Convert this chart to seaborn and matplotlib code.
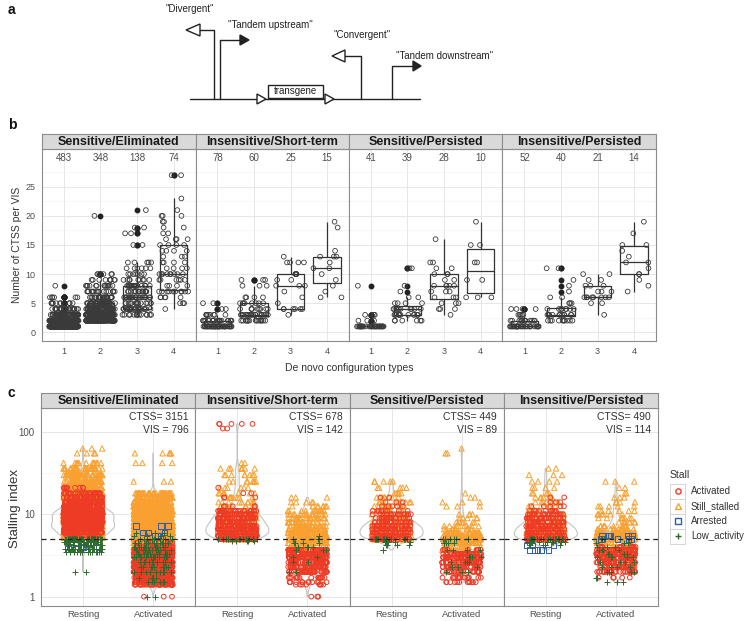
import numpy as np
import pandas as pd
import seaborn as sns
import matplotlib.pyplot as plt
from matplotlib.patches import Rectangle, Polygon
from matplotlib.ticker import FixedLocator

sns.set_style('white')
plt.rcParams['font.family'] = ['Liberation Sans', 'DejaVu Sans']
np.random.seed(7)

FACETS = ['Sensitive/Eliminated', 'Insensitive/Short-term',
          'Sensitive/Persisted', 'Insensitive/Persisted']

# ---- panel b: number of CTSS per VIS, {CTSS count: number of VIS}
CONFIG_TYPES = ['1', '2', '3', '4']
VIS_COUNTS = [[483, 348, 138, 74], [78, 60, 25, 15], [41, 39, 28, 10], [52, 40, 21, 14]]
SE_CTSS = [{1: 250, 2: 130, 3: 60, 4: 25, 5: 11, 6: 6, 8: 1},
           {2: 95, 3: 85, 4: 60, 5: 40, 6: 24, 7: 16, 8: 13, 9: 9, 10: 5, 20: 1},
           {3: 14, 4: 22, 5: 15, 6: 20, 7: 16, 8: 17, 9: 9, 10: 7, 11: 6, 12: 5,
            15: 2, 17: 2, 18: 2, 21: 1},
           {4: 1, 5: 3, 6: 5, 7: 10, 8: 4, 9: 6, 10: 9, 11: 4, 12: 4, 13: 3, 14: 4,
            15: 4, 16: 4, 17: 2, 18: 2, 19: 2, 20: 3, 21: 1, 23: 1, 27: 2}]
IS_CTSS = [{1: 45, 2: 20, 3: 9, 4: 2, 5: 2},
           {2: 15, 3: 18, 4: 9, 5: 8, 6: 4, 8: 3, 9: 3},
           {3: 1, 4: 6, 5: 1, 6: 1, 7: 1, 8: 3, 9: 2, 10: 5, 12: 4, 13: 1},
           {6: 2, 7: 1, 8: 1, 9: 1, 10: 1, 11: 2, 12: 1, 13: 3, 14: 1, 18: 1, 19: 1}]
SP_CTSS = [{1: 33, 2: 3, 3: 4, 8: 1},
           {2: 6, 3: 13, 4: 10, 5: 4, 6: 2, 7: 1, 8: 1, 11: 2},
           {3: 1, 4: 3, 5: 3, 6: 3, 7: 3, 8: 5, 9: 2, 10: 3, 11: 2, 12: 2, 16: 1},
           {6: 3, 9: 2, 12: 2, 15: 2, 19: 1}]
IP_CTSS = [{1: 30, 2: 13, 3: 5, 4: 4},
           {2: 10, 3: 12, 4: 8, 5: 3, 6: 2, 7: 1, 8: 1, 9: 1, 11: 2},
           {3: 1, 5: 2, 6: 8, 7: 3, 8: 3, 9: 2, 10: 2},
           {7: 1, 8: 1, 9: 1, 10: 2, 11: 1, 12: 2, 13: 1, 14: 1, 15: 2, 17: 1, 19: 1}]

# ---- panel c: stalling index, {stalling index: number of CTSS}
CONDITIONS = ['Resting', 'Activated']
STALL_CLASSES = ['Activated', 'Still_stalled', 'Arrested', 'Low_activity']
STALL_COLORS = {'Activated': '#EE3B26', 'Still_stalled': '#F9A030',
                'Arrested': '#2C5DA8', 'Low_activity': '#2D6A2D'}
STALL_MARKERS = {'Activated': 'o', 'Still_stalled': '^', 'Arrested': 's', 'Low_activity': '+'}
DRAW_ORDER = ['Still_stalled', 'Activated', 'Arrested', 'Low_activity']
CTSS_TOTALS = [3151, 678, 449, 490]
VIS_TOTALS = [796, 142, 89, 114]

SE_STALL = {
    'Resting': {
        'Still_stalled': {5.2: 90, 5.5: 130, 6: 140, 6.6: 140, 7.2: 140, 8: 140, 9: 130, 10: 130,
                          11: 120, 12.5: 110, 14: 100, 16: 90, 18: 80, 21: 70, 25: 60, 30: 50,
                          36: 30, 42: 12, 55: 4, 63: 3},
        'Activated': {5.5: 20, 6: 50, 6.6: 90, 7.2: 120, 8: 150, 9: 150, 10: 140, 11: 120,
                      12.5: 100, 14: 70, 16: 50, 18: 30, 21: 10},
        'Arrested': {3.8: 5, 4.0: 3},
        'Low_activity': {5.0: 55, 4.6: 25, 4.2: 20, 3.8: 18, 3.5: 15, 2.0: 2}},
    'Activated': {
        'Still_stalled': {3.7: 60, 4.0: 90, 4.5: 120, 5.0: 140, 5.5: 150, 6: 150, 6.6: 140,
                          7.2: 130, 8: 130, 9: 120, 10: 110, 11: 100, 12.5: 90, 14: 80, 16: 60,
                          18: 40, 25: 3, 42: 4, 55: 5},
        'Activated': {1.0: 3, 1.4: 40, 1.5: 80, 1.7: 80, 2.0: 140, 2.3: 150, 2.6: 160, 3.0: 170,
                      3.3: 160, 3.7: 100, 4.0: 40, 4.5: 17},
        'Arrested': {5.5: 2, 6.0: 3, 7.2: 3},
        'Low_activity': {1.0: 2, 1.5: 6, 1.7: 6, 2.0: 10, 2.3: 10, 2.6: 12, 3.0: 14, 3.3: 14,
                         3.7: 14, 4.0: 12, 4.5: 12, 5.0: 10, 5.5: 4, 6: 3}}}
IS_STALL = {
    'Resting': {
        'Still_stalled': {5.0: 20, 5.5: 30, 6: 30, 6.6: 30, 7.2: 30, 8: 30, 9: 30, 10: 30,
                          11: 20, 12.5: 10, 14: 10, 16: 8, 18: 8, 21: 6, 25: 8, 30: 8, 36: 8, 42: 2},
        'Activated': {5.0: 30, 5.5: 40, 6: 40, 6.6: 40, 7.2: 40, 8: 40, 9: 35, 10: 30, 11: 25,
                      12.5: 5, 16: 3, 18: 2, 21: 1, 110: 2, 125: 5},
        'Low_activity': {5.0: 15, 4.8: 5}},
    'Activated': {
        'Still_stalled': {3.7: 10, 4.0: 20, 4.5: 30, 5.0: 40, 5.5: 40, 6: 35, 6.6: 30, 7.2: 25,
                          8: 25, 9: 20, 10: 15, 11: 12, 12.5: 8, 14: 5, 16: 3},
        'Activated': {1.0: 3, 1.4: 8, 1.5: 12, 1.7: 15, 2.0: 40, 2.3: 50, 2.6: 55, 3.0: 60,
                      3.3: 60, 3.7: 35},
        'Low_activity': {2.0: 2, 2.6: 2, 3.0: 2, 3.7: 3, 4.0: 4, 4.5: 4, 5.0: 2, 5.5: 1}}}
SP_STALL = {
    'Resting': {
        'Still_stalled': {5.0: 20, 5.5: 25, 6: 25, 6.6: 25, 7.2: 25, 8: 20, 9: 15, 10: 10,
                          11: 10, 12.5: 12, 14: 10, 16: 8, 18: 5, 21: 5, 25: 5},
        'Activated': {5.0: 20, 5.5: 25, 6: 25, 6.6: 25, 7.2: 25, 8: 25, 9: 20, 10: 15, 11: 10,
                      12.5: 5, 14: 3, 16: 2},
        'Low_activity': {5.0: 18, 4.6: 5, 4.2: 4, 3.7: 2}},
    'Activated': {
        'Still_stalled': {3.7: 10, 4.0: 20, 4.5: 35, 5.0: 45, 5.5: 40, 6: 25, 6.6: 10, 7.2: 8,
                          8: 6, 9: 5, 10: 4, 12.5: 3, 14: 3, 16: 2, 18: 1, 55: 2, 63: 1},
        'Activated': {1.5: 12, 1.7: 15, 2.0: 25, 2.3: 30, 2.6: 35, 3.0: 40, 3.3: 35, 3.7: 8},
        'Low_activity': {2.0: 3, 2.3: 3, 2.6: 4, 3.0: 4, 3.7: 4, 4.5: 5, 5.0: 6}}}
IP_STALL = {
    'Resting': {
        'Still_stalled': {5.0: 20, 5.5: 25, 6: 25, 6.6: 25, 7.2: 20, 8: 15, 9: 12, 10: 10,
                          11: 8, 12.5: 8, 14: 8, 16: 6, 18: 5, 21: 4, 25: 4, 30: 3, 36: 2},
        'Activated': {5.0: 25, 5.5: 30, 6: 30, 6.6: 30, 7.2: 30, 8: 30, 9: 25, 10: 20, 11: 10,
                      12.5: 5, 14: 3, 16: 2},
        'Arrested': {3.7: 6, 4.2: 4},
        'Low_activity': {5.0: 25, 4.6: 10, 4.2: 5}},
    'Activated': {
        'Still_stalled': {3.7: 8, 4.0: 12, 4.5: 25, 5.0: 30, 5.5: 30, 6: 25, 6.6: 15, 7.2: 10,
                          8: 8, 9: 7, 10: 6, 11: 5, 12.5: 5, 14: 4, 16: 3, 18: 2, 21: 2, 25: 3},
        'Activated': {1.7: 5, 2.0: 25, 2.3: 35, 2.6: 40, 3.0: 45, 3.3: 45, 3.7: 30, 4.0: 15},
        'Arrested': {5.0: 4, 5.5: 6},
        'Low_activity': {1.5: 3, 1.7: 2, 2.0: 5, 2.3: 4, 2.6: 4, 3.0: 5, 3.3: 4, 3.7: 4,
                         4.0: 3, 4.5: 3, 5.0: 3}}}


def expand(counts):
    return np.repeat(list(counts.keys()), list(counts.values()))


W, H = 755, 621
fig = plt.figure(figsize=(W / 100, H / 100), dpi=100)
over = fig.add_axes([0, 0, 1, 1])
over.set_xlim(0, W)
over.set_ylim(H, 0)
over.axis('off')


def px_axes(x0, y0, x1, y1):
    return fig.add_axes([x0 / W, 1 - y1 / H, (x1 - x0) / W, (y1 - y0) / H])


def style_axes(ax, show_y, size):
    ax.set_facecolor('white')
    for s in ax.spines.values():
        s.set_visible(True)
        s.set_color('#8C8C8C')
        s.set_linewidth(0.8)
    ax.grid(True, which='major', color='#E3E3E3', lw=0.6)
    ax.grid(True, which='minor', axis='y', color='#F0F0F0', lw=0.4)
    ax.set_axisbelow(True)
    ax.tick_params(which='major', length=2.5, width=0.6, color='#4D4D4D',
                   labelsize=size, labelcolor='#4D4D4D', pad=2)
    ax.tick_params(which='minor', length=0)
    ax.set_xlabel('')
    ax.set_ylabel('')
    if not show_y:
        ax.tick_params(axis='y', left=False, labelleft=False)


def add_strip(x0, x1, y0, y1, label):
    sa = px_axes(x0, y0, x1, y1)
    sa.set_facecolor('#D9D9D9')
    sa.set_xticks([])
    sa.set_yticks([])
    for s in sa.spines.values():
        s.set_visible(True)
        s.set_color('#8C8C8C')
        s.set_linewidth(0.8)
    sa.text(0.5, 0.47, label, ha='center', va='center', fontsize=9,
            fontweight='bold', color='#1A1A1A', transform=sa.transAxes)


# ---- panel a: schematic
line_kw = dict(color='#222222', lw=1.0)
over.plot([190, 420], [99, 99], **line_kw)
over.plot([214, 214, 200], [99, 30, 30], **line_kw)
over.add_patch(Polygon([(200, 24), (200, 36), (186, 30)], closed=True, fc='white', ec='#222222', lw=1))
over.plot([220, 220, 240], [99, 40, 40], **line_kw)
over.add_patch(Polygon([(240, 35), (240, 45), (249, 40)], closed=True, fc='#222222', ec='#222222', lw=1))
over.plot([361, 361, 345], [99, 56, 56], **line_kw)
over.add_patch(Polygon([(345, 50), (345, 62), (332, 56)], closed=True, fc='white', ec='#222222', lw=1))
over.plot([392, 392, 413], [99, 66, 66], **line_kw)
over.add_patch(Polygon([(413, 61), (413, 71), (421, 66)], closed=True, fc='#222222', ec='#222222', lw=1))
over.add_patch(Rectangle((268, 85), 55, 13, fc='white', ec='#222222', lw=1, zorder=3))
over.text(295.5, 91.5, 'transgene', ha='center', va='center', fontsize=7, color='#222222', zorder=4)
for tx in (257, 325):
    over.add_patch(Polygon([(tx, 94), (tx, 104), (tx + 9, 99)], closed=True, fc='white',
                           ec='#222222', lw=1, zorder=3))
for txt, x, y in [('"Divergent"', 166, 9), ('"Tandem upstream"', 228, 25),
                  ('"Convergent"', 333, 35), ('"Tandem downstream"', 396, 56)]:
    over.text(x, y, txt, ha='left', va='center', fontsize=7, color='#222222')

for lab, y in [('a', 10), ('b', 125), ('c', 393)]:
    over.text(8, y, lab, ha='left', va='center', fontsize=10, fontweight='bold', color='#111111')

# ---- panel b: CTSS per VIS
for i, (name, data, counts) in enumerate(zip(FACETS, [SE_CTSS, IS_CTSS, SP_CTSS, IP_CTSS], VIS_COUNTS)):
    x0 = 42 + i * 153.5
    ax = px_axes(x0, 149, x0 + 153.5, 341)
    df = pd.DataFrame({
        'type': np.concatenate([[t] * sum(d.values()) for t, d in zip(CONFIG_TYPES, data)]),
        'n': np.concatenate([expand(d) for d in data]),
    })
    sns.boxplot(data=df, x='type', y='n', order=CONFIG_TYPES, ax=ax, fill=False,
                color='#333333', width=0.75, linewidth=0.9, showcaps=False,
                flierprops=dict(marker='o', markersize=3.2, markerfacecolor='#222222',
                                markeredgecolor='#222222'))
    sns.stripplot(data=df, x='type', y='n', order=CONFIG_TYPES, ax=ax, jitter=0.4,
                  size=3.4, color='#3A3A3A', edgecolor='#3A3A3A', facecolor='none',
                  linewidth=0.6)
    for j, c in enumerate(counts):
        ax.text(j, 30, str(c), ha='center', va='center', fontsize=7, color='#4D4D4D')
    ax.set_xlim(-0.6, 3.6)
    ax.set_ylim(-1.5, 31.5)
    ax.set_yticks([0, 5, 10, 15, 20, 25])
    ax.yaxis.set_minor_locator(FixedLocator([2.5, 7.5, 12.5, 17.5, 22.5, 27.5]))
    style_axes(ax, i == 0, 6.5)
    add_strip(x0, x0 + 153.5, 134, 149, name)

over.text(17, 245, 'Number of CTSS per VIS', rotation=90, ha='center', va='center',
          fontsize=7.5, color='#333333')
over.text(349, 368, 'De novo configuration types', ha='center', va='center',
          fontsize=7.5, color='#333333')

# ---- panel c: stalling index
for i, (name, stall) in enumerate(zip(FACETS, [SE_STALL, IS_STALL, SP_STALL, IP_STALL])):
    x0 = 41 + i * 154.25
    ax = px_axes(x0, 408, x0 + 154.25, 606)
    rows = []
    for cond in CONDITIONS:
        for cls, counts in stall[cond].items():
            rows.append(pd.DataFrame({'condition': cond, 'stall': cls, 'si': expand(counts)}))
    df = pd.concat(rows, ignore_index=True)
    sns.violinplot(data=df, x='condition', y='si', order=CONDITIONS, ax=ax, log_scale=True,
                   fill=False, color='#C4C4C4', inner=None, cut=0, linewidth=0.8, width=0.9)
    for cls in DRAW_ORDER:
        sub = df[df['stall'] == cls]
        if sub.empty:
            continue
        col = STALL_COLORS[cls]
        mk = STALL_MARKERS[cls]
        kw = dict(data=sub, x='condition', y='si', order=CONDITIONS, ax=ax, jitter=0.28,
                  log_scale=True, marker=mk, color=col, linewidth=0.7)
        if mk == '+':
            sns.stripplot(size=4.4, **kw)
        else:
            sns.stripplot(size=3.4 if mk == 'o' else 3.9, edgecolor=col, facecolor='none', **kw)
    ax.axhline(5, color='#222222', lw=0.9, ls=(0, (4, 3)), zorder=5)
    ax.text(0.955, 0.955, f'CTSS= {CTSS_TOTALS[i]}', transform=ax.transAxes, ha='right',
            va='center', fontsize=7.5, color='#333333')
    ax.text(0.955, 0.89, f'VIS = {VIS_TOTALS[i]}', transform=ax.transAxes, ha='right',
            va='center', fontsize=7.5, color='#333333')
    ax.set_xlim(-0.6, 1.6)
    ax.set_ylim(0.77, 195)
    ax.set_yticks([1, 10, 100])
    ax.set_yticklabels(['1', '10', '100'])
    ax.yaxis.set_minor_locator(FixedLocator([10 ** 0.5, 10 ** 1.5]))
    style_axes(ax, i == 0, 7)
    ax.tick_params(axis='x', pad=1, length=2, labelsize=6.8)
    add_strip(x0, x0 + 154.25, 393, 408, name)

over.text(15, 508, 'Stalling index', rotation=90, ha='center', va='center',
          fontsize=9.5, color='#333333')

# legend
over.text(670, 475, 'Stall', ha='left', va='center', fontsize=7.5, color='#333333')
for k, cls in enumerate(STALL_CLASSES):
    yc = 491 + 15 * k
    over.add_patch(Rectangle((670, yc - 7.5), 15, 15, fc='white', ec='#D0D0D0', lw=0.6))
    mk = STALL_MARKERS[cls]
    col = STALL_COLORS[cls]
    if mk == '+':
        over.plot([677.5], [yc], marker='+', ms=5, color=col, mew=1.0)
    else:
        over.plot([677.5], [yc], marker=mk, ms=3.8, mfc='none', mec=col, mew=1.0)
    over.text(691, yc, cls, ha='left', va='center', fontsize=7, color='#333333')

fig.savefig('out.png', dpi=100)
